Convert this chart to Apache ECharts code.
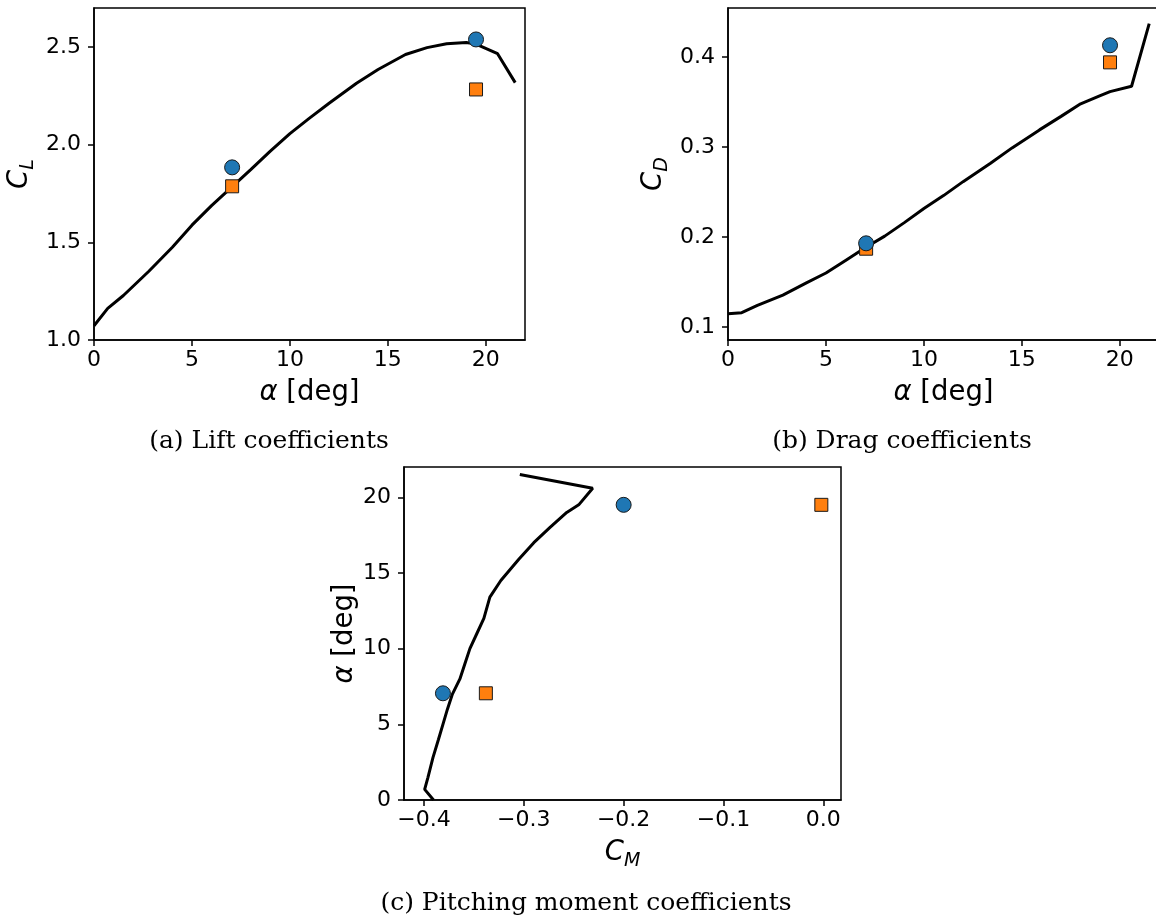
<!DOCTYPE html>
<html><head><meta charset="utf-8">
<script src="https://cdn.jsdelivr.net/npm/echarts@6/dist/echarts.min.js"></script>
<style>html,body{margin:0;padding:0;background:#fff;} #c{width:1156px;height:921px;}</style>
</head><body><div id="c"></div>
<script>
// ---- data ----
const alpha = [0, 0.7, 1.5, 2.8, 4.0, 5.0, 6.0, 7.0, 8.0, 9.0, 10.0, 11.0, 12.0, 13.4, 14.5, 15.9, 17.0, 18.0, 19.0, 19.5, 20.6, 21.5];
const CL = [1.073, 1.162, 1.228, 1.352, 1.475, 1.588, 1.688, 1.780, 1.872, 1.967, 2.057, 2.136, 2.212, 2.315, 2.385, 2.462, 2.497, 2.517, 2.523, 2.515, 2.466, 2.318];
const CD = [0.1147, 0.1160, 0.1240, 0.1355, 0.1490, 0.1600, 0.1740, 0.1880, 0.2010, 0.2160, 0.2316, 0.2460, 0.2615, 0.2820, 0.2990, 0.3190, 0.3340, 0.3480, 0.3570, 0.3615, 0.3675, 0.4370];
const CM = [-0.3904, -0.3993, -0.3960, -0.3910, -0.3855, -0.3810, -0.3765, -0.3715, -0.3640, -0.3590, -0.3540, -0.3470, -0.3400, -0.3340, -0.3230, -0.3050, -0.2900, -0.2740, -0.2570, -0.2450, -0.2310, -0.3040];
const alphaPts = [7.05, 19.5];
const CL_circle = [1.884, 2.539];
const CL_square = [1.787, 2.283];
const CD_circle = [0.193, 0.413];
const CD_square = [0.187, 0.394];
const CM_circle = [-0.381, -0.200];
const CM_square = [-0.338, -0.002];
// tick labels
const alphaTicks = [0, 5, 10, 15, 20];
const clTicks = [1.0, 1.5, 2.0, 2.5];
const cdTicks = [0.1, 0.2, 0.3, 0.4];
const cmTicks = [-0.4, -0.3, -0.2, -0.1, 0.0];
const captions = ['(a) Lift coefficients', '(b) Drag coefficients', '(c) Pitching moment coefficients'];

// ---- styling helpers ----
const SANS = 'DejaVu Sans';
const SERIF = 'DejaVu Serif';
const TICK_FS = 22, NAME_FS = 27.5, SUB_FS = 19;
function fmt(v, d) {
  const s = Math.abs(v).toFixed(d);
  return (v < 0 && Number(s) !== 0 ? '\u2212' : '') + s;
}
const nameRich = {
  i: {fontFamily: SANS, fontStyle: 'italic', fontSize: NAME_FS, color: '#000'},
  c: {fontFamily: SANS, fontStyle: 'italic', fontSize: NAME_FS, color: '#000', verticalAlign: 'bottom', padding: [0, 0, 5, 0]},
  s: {fontFamily: SANS, fontStyle: 'italic', fontSize: SUB_FS, color: '#000', verticalAlign: 'bottom'}
};
function axis(gridIndex, min, max, ticks, digits, name, nameGap, margin) {
  return {
    type: 'value', gridIndex, min, max,
    name, nameLocation: 'middle', nameGap,
    nameTextStyle: {fontFamily: SANS, fontSize: NAME_FS, color: '#000', rich: nameRich},
    axisLine: {show: true, onZero: false, lineStyle: {color: '#000', width: 1.5}},
    axisTick: {show: true, customValues: ticks, length: 6, lineStyle: {color: '#000', width: 1.5}},
    axisLabel: {customValues: ticks, formatter: v => fmt(v, digits), fontFamily: SANS, fontSize: TICK_FS, color: '#000', margin},
    splitLine: {show: false}
  };
}
const gridBase = {show: true, borderColor: '#000', borderWidth: 1.5, backgroundColor: '#fff', containLabel: false, outerBoundsMode: 'none'};
const lineStyle = {color: '#000', width: 3};
function lineSeries(i, data) {
  return {type: 'line', xAxisIndex: i, yAxisIndex: i, data, showSymbol: false, symbol: 'none', lineStyle, z: 2, animation: false, silent: true};
}
function scat(i, data, kind) {
  return kind === 'circle'
    ? {type: 'scatter', xAxisIndex: i, yAxisIndex: i, data, symbol: 'circle', symbolSize: 15, itemStyle: {color: '#1f77b4', borderColor: '#1a1a1a', borderWidth: 1, opacity: 1}, z: 4, animation: false}
    : {type: 'scatter', xAxisIndex: i, yAxisIndex: i, data, symbol: 'rect', symbolSize: 13, itemStyle: {color: '#ff7f0e', borderColor: '#1a1a1a', borderWidth: 1, opacity: 1}, z: 3, animation: false};
}
const zip = (a, b) => a.map((v, k) => [v, b[k]]);

const option = {
  backgroundColor: '#fff',
  animation: false,
  grid: [
    Object.assign({left: 94, top: 8, width: 431, height: 332}, gridBase),
    Object.assign({left: 728, top: 8, width: 431, height: 332}, gridBase),
    Object.assign({left: 404, top: 467, width: 437, height: 333}, gridBase)
  ],
  xAxis: [
    axis(0, 0, 22, alphaTicks, 0, '{i|\u03b1} [deg]', 39, 9),
    axis(1, 0, 22, alphaTicks, 0, '{i|\u03b1} [deg]', 39, 9),
    axis(2, -0.42, 0.0177, cmTicks, 1, '{c|C}{s|M}', 39, 9)
  ],
  yAxis: [
    axis(0, 1.0, 2.70, clTicks, 1, '{c|C}{s|L}', 56, 13),
    axis(1, 0.0856, 0.4544, cdTicks, 1, '{c|C}{s|D}', 56, 13),
    axis(2, 0, 22, alphaTicks, 0, '{i|\u03b1} [deg]', 40, 13)
  ],
  series: [
    lineSeries(0, zip(alpha, CL)),
    scat(0, zip(alphaPts, CL_square), 'square'),
    scat(0, zip(alphaPts, CL_circle), 'circle'),
    lineSeries(1, zip(alpha, CD)),
    scat(1, zip(alphaPts, CD_square), 'square'),
    scat(1, zip(alphaPts, CD_circle), 'circle'),
    lineSeries(2, zip(CM, alpha)),
    scat(2, zip(CM_square, alphaPts), 'square'),
    scat(2, zip(CM_circle, alphaPts), 'circle')
  ],
  graphic: [
    {type: 'text', x: 269, y: 441, style: {text: captions[0], fontFamily: SERIF, fontSize: 25, fill: '#000', align: 'center', verticalAlign: 'middle'}},
    {type: 'text', x: 902, y: 441, style: {text: captions[1], fontFamily: SERIF, fontSize: 25, fill: '#000', align: 'center', verticalAlign: 'middle'}},
    {type: 'text', x: 586, y: 903, style: {text: captions[2], fontFamily: SERIF, fontSize: 25, fill: '#000', align: 'center', verticalAlign: 'middle'}}
  ]
};
const chart = echarts.init(document.getElementById('c'), null, {renderer: 'canvas'});
chart.setOption(option);
</script>
</body></html>
